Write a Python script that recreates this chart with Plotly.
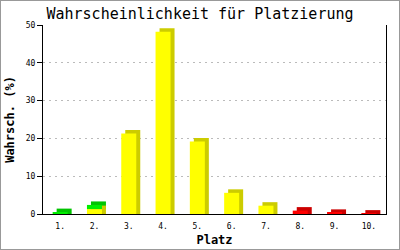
import plotly.graph_objects as go

places = ["1.", "2.", "3.", "4.", "5.", "6.", "7.", "8.", "9.", "10."]
yellow_vals = [0, 1.3, 21.3, 48.2, 19.2, 5.6, 2.2, 0, 0, 0]
green_vals = [0.5, 1.1, 0, 0, 0, 0, 0, 0, 0, 0]
red_vals = [0, 0, 0, 0, 0, 0, 0, 0.9, 0.3, 0.1]
y_ticks = [0, 10, 20, 30, 40, 50]

W, H = 400, 250
ML, MR, MT, MB = 43, 14, 25, 36
Y_MAX = 50
pw = W - ML - MR
ph = H - MT - MB
xs = list(range(1, len(places) + 1))
bar_w = 15 / (pw / len(places))
dx = 4 / (pw / len(places))
dy = 3.5 / (ph / Y_MAX)

series = [
    (yellow_vals, "#FFFF00", "#CCCC00"),
    (green_vals, "#00EE00", "#00C400"),
    (red_vals, "#FF0000", "#CC0000"),
]

fig = go.Figure()
bases = [0.0] * len(places)
stack = []
for vals, front, back in series:
    stack.append((vals, list(bases), front, back))
    bases = [b + v for b, v in zip(bases, vals)]

# back (side + top) faces first, upper segments first
for vals, base, front, back in reversed(stack):
    fig.add_trace(go.Bar(x=xs, y=[v + dy if v > 0 else 0 for v in vals], base=base,
                         width=bar_w, offset=-bar_w / 2 + dx,
                         marker=dict(color=back, line=dict(width=0)),
                         hoverinfo="skip", showlegend=False))
for vals, base, front, back in stack:
    fig.add_trace(go.Bar(x=xs, y=vals, base=base,
                         width=bar_w, offset=-bar_w / 2,
                         marker=dict(color=front, line=dict(width=0)),
                         hoverinfo="skip", showlegend=False))

mono = "DejaVu Sans Mono"
fig.update_layout(
    width=W, height=H, barmode="overlay",
    margin=dict(l=ML, r=MR, t=MT, b=MB),
    paper_bgcolor="white", plot_bgcolor="white",
    title=dict(text="Wahrscheinlichkeit für Platzierung", x=0.5, xanchor="center",
               y=1 - 14 / H, yanchor="middle",
               font=dict(family=mono, size=15, color="black")),
    xaxis=dict(range=[0.5, len(places) + 0.5], tickvals=xs, ticktext=places,
               automargin=False,
               showgrid=False, zeroline=False, showline=True, linecolor="black",
               linewidth=1, ticks="outside", ticklen=4, tickcolor="rgba(0,0,0,0)",
               tickfont=dict(family=mono, size=8, color="black"),
               title=dict(text="<b>Platz</b>", standoff=6,
                          font=dict(family=mono, size=12, color="black"))),
    yaxis=dict(range=[0, Y_MAX], tickvals=y_ticks, showgrid=True, gridcolor="#BBBBBB",
               automargin=False,
               griddash="2px,4px", gridwidth=1, zeroline=False, showline=True,
               linecolor="black", linewidth=1, mirror=True, ticks="outside",
               ticklen=5, tickcolor="black",
               tickfont=dict(family=mono, size=8, color="black"),
               title=dict(text="<b>Wahrsch. (%)</b>", standoff=8,
                          font=dict(family=mono, size=12, color="black"))),
    shapes=[dict(type="rect", xref="paper", yref="paper", x0=-ML / pw, x1=1 + MR / pw,
                 y0=-MB / ph, y1=1 + MT / ph, line=dict(color="#999999", width=2),
                 layer="above")],
)
fig.write_html("out.html")
